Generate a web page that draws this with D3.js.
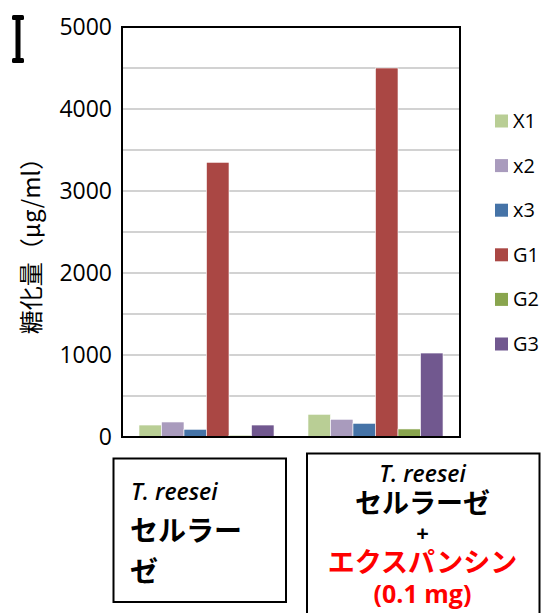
<!DOCTYPE html>
<html>
<head>
<meta charset="utf-8">
<script src="https://cdn.jsdelivr.net/npm/d3@7"></script>
<style>
  body { margin: 0; background: #fff; }
  svg { display: block; font-family: "Noto Sans", "Noto Sans CJK JP", sans-serif; }
</style>
</head>
<body>
<div class="chart"></div>
<script>
"use strict";

const categories = ["reesei", "reesei+expansin"];
const seriesNames = ["X1", "x2", "x3", "G1", "G2", "G3"];
const seriesColors = ["#b9ce95", "#a99bbd", "#4573a7", "#aa4744", "#89a54e", "#71588f"];
// values per series, in category order
const X1 = [146, 277];
const x2 = [183, 216];
const x3 = [94, 167];
const G1 = [3350, 4500];
const G2 = [20, 98];
const G3 = [146, 1024];
const yTicks = [0, 1000, 2000, 3000, 4000, 5000];
const yGrid = [500, 1000, 1500, 2000, 2500, 3000, 3500, 4000, 4500];

const values = [X1, x2, x3, G1, G2, G3];
const data = [];
categories.forEach((c, ci) => {
  seriesNames.forEach((s, si) => data.push({ cat: c, series: s, value: values[si][ci] }));
});

const WIDTH = 541, HEIGHT = 613;
const PLOT = { left: 122, right: 460, top: 27, bottom: 437 };

const svg = d3.select(".chart").append("svg")
  .attr("width", WIDTH).attr("height", HEIGHT);

const xScale = d3.scaleBand().domain(categories).range([PLOT.left, PLOT.right]).padding(0);
const xInner = d3.scaleBand().domain(seriesNames).range([0, xScale.bandwidth()])
  .paddingInner(0).paddingOuter(0.755);
const yScale = d3.scaleLinear().domain([0, 5000]).range([PLOT.bottom, PLOT.top]);
const cScale = d3.scaleOrdinal().domain(seriesNames).range(seriesColors);

// gridlines
svg.append("g")
  .selectAll("line").data(yGrid).enter().append("line")
  .attr("x1", PLOT.left).attr("x2", PLOT.right)
  .attr("y1", d => yScale(d)).attr("y2", d => yScale(d))
  .style("stroke", "#a6a6a6").style("stroke-width", 1.2);

// bars
svg.append("g")
  .selectAll("rect").data(data).enter().append("rect")
  .attr("x", d => xScale(d.cat) + xInner(d.series))
  .attr("y", d => yScale(d.value))
  .attr("width", xInner.bandwidth())
  .attr("height", d => yScale(0) - yScale(d.value))
  .style("fill", d => cScale(d.series))
  .style("stroke", "#fff").style("stroke-width", 0.6);

// plot frame
svg.append("rect")
  .attr("x", PLOT.left).attr("y", PLOT.top)
  .attr("width", PLOT.right - PLOT.left).attr("height", PLOT.bottom - PLOT.top)
  .style("fill", "none").style("stroke", "#000").style("stroke-width", 2);

// y axis
const yAxis = d3.axisLeft(yScale).tickValues(yTicks).tickFormat(d3.format("d"))
  .tickSize(0).tickPadding(10);
const yg = svg.append("g").attr("transform", `translate(${PLOT.left},0)`).call(yAxis);
yg.select(".domain").remove();
yg.selectAll("text").style("font-size", "23px").style("fill", "#000")
  .style("font-family", "'Open Sans', sans-serif");

// y label
svg.append("text")
  .attr("transform", "translate(40,240) rotate(-90)")
  .attr("text-anchor", "middle")
  .style("font-size", "24px")
  .style("font-family", "'Noto Sans CJK JP', sans-serif")
  .text("糖化量（μg/ml）");

// I-beam mark
const ib = svg.append("g").style("fill", "#000");
ib.append("rect").attr("x", 15.5).attr("y", 16).attr("width", 5).attr("height", 46);
ib.append("rect").attr("x", 12).attr("y", 15).attr("width", 12).attr("height", 5).attr("rx", 1.5);
ib.append("rect").attr("x", 12).attr("y", 58).attr("width", 12).attr("height", 5).attr("rx", 1.5);

// legend
const lScale = d3.scalePoint().domain(seriesNames).range([121, 344]);
const lg = svg.append("g");
lg.selectAll("rect").data(seriesNames).enter().append("rect")
  .attr("x", 495).attr("y", d => lScale(d) - 6.5)
  .attr("width", 13).attr("height", 13)
  .style("fill", d => cScale(d));
lg.selectAll("text").data(seriesNames).enter().append("text")
  .attr("x", 513).attr("y", d => lScale(d) + 7)
  .style("font-size", "20px").style("font-family", "'Open Sans', sans-serif")
  .text(d => d);

// category boxes
svg.append("rect").attr("x", 113.5).attr("y", 458.5).attr("width", 172.5).attr("height", 143.5)
  .style("fill", "none").style("stroke", "#000").style("stroke-width", 2);
svg.append("rect").attr("x", 307).attr("y", 453.5).attr("width", 232.5).attr("height", 170)
  .style("fill", "none").style("stroke", "#000").style("stroke-width", 2);

const jp = "'Noto Sans CJK JP', sans-serif";
const b1 = svg.append("g");
b1.append("text").attr("x", 131).attr("y", 500)
  .style("font-size", "23px").style("font-style", "italic").style("font-weight", 600)
  .style("font-family", "'Open Sans', sans-serif").text("T. reesei");
b1.append("text").attr("x", 130).attr("y", 541)
  .style("font-size", "28px").style("font-weight", 700).style("font-family", jp).text("セルラー");
b1.append("text").attr("x", 130).attr("y", 582)
  .style("font-size", "28px").style("font-weight", 700).style("font-family", jp).text("ゼ");

const cx2 = xScale(categories[1]) + xScale.bandwidth() / 2 + 47;
const b2 = svg.append("g").attr("text-anchor", "middle");
b2.append("text").attr("x", cx2).attr("y", 482)
  .style("font-size", "23px").style("font-style", "italic").style("font-weight", 600)
  .style("font-family", "'Open Sans', sans-serif").text("T. reesei");
b2.append("text").attr("x", cx2).attr("y", 513)
  .style("font-size", "27px").style("font-weight", 700).style("font-family", jp).text("セルラーゼ");
b2.append("text").attr("x", cx2).attr("y", 541)
  .style("font-size", "22px").style("font-weight", 700).style("font-family", "'Open Sans', sans-serif").text("+");
b2.append("text").attr("x", cx2).attr("y", 572)
  .style("font-size", "27px").style("font-weight", 700).style("font-family", jp)
  .style("fill", "#ff0000").text("エクスパンシン");
b2.append("text").attr("x", cx2).attr("y", 603)
  .style("font-size", "25px").style("font-weight", 700).style("font-family", "'Open Sans', sans-serif")
  .style("fill", "#ff0000").text("(0.1 mg)");
</script>
</body>
</html>
